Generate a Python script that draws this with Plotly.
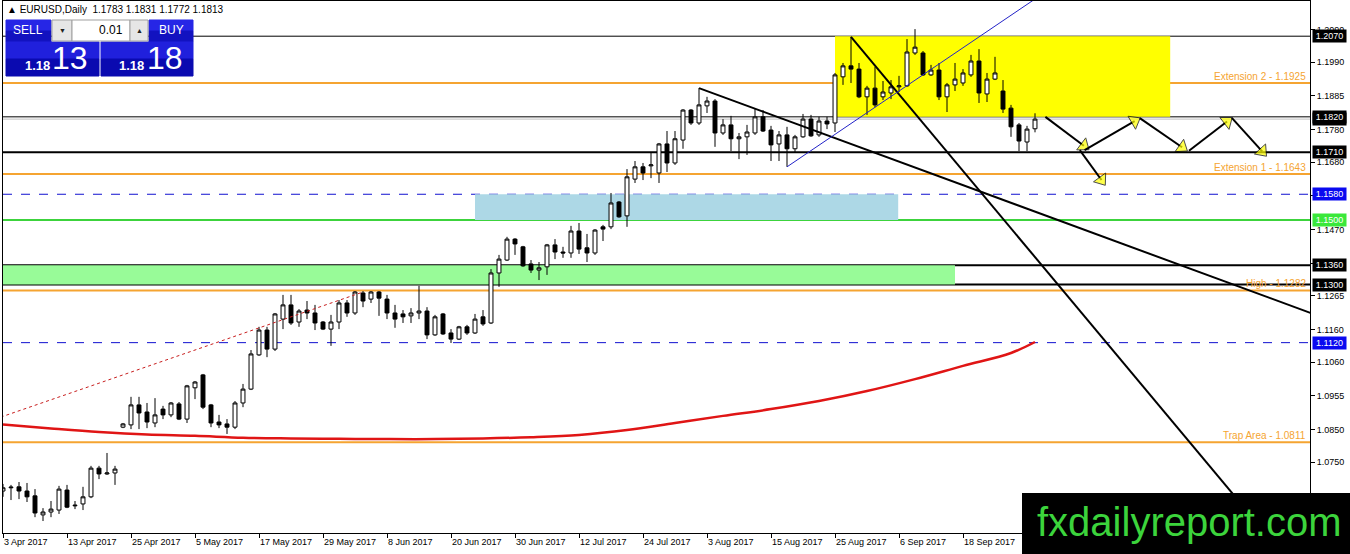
import plotly.graph_objects as go

# ---------------------------------------------------------------------------
# EURUSD daily candles, 3 Apr 2017 .. 29 Sep 2017
# ---------------------------------------------------------------------------
TICK_DATES = ["3 Apr 2017", "13 Apr 2017", "25 Apr 2017", "5 May 2017",
              "17 May 2017", "29 May 2017", "8 Jun 2017", "20 Jun 2017",
              "30 Jun 2017", "12 Jul 2017", "24 Jul 2017", "3 Aug 2017",
              "15 Aug 2017", "25 Aug 2017", "6 Sep 2017", "18 Sep 2017"]
PRICE_TICKS = [1.2090, 1.1990, 1.1885, 1.1780, 1.1680, 1.1575, 1.1470, 1.1365,
               1.1265, 1.1160, 1.1060, 1.0955, 1.0850, 1.0750, 1.0645]

OPEN = [1.0660, 1.0670, 1.0673, 1.0660, 1.0645, 1.0586, 1.0595, 1.0601, 1.0663, 1.0614,
        1.0620, 1.0642, 1.0731, 1.0713, 1.0716, 1.0858, 1.0865, 1.0927, 1.0905, 1.0871,
        1.0914, 1.0896, 1.0930, 1.0883, 1.0980, 1.1020, 1.0927, 1.0874, 1.0868, 1.0858,
        1.0933, 1.0976, 1.1082, 1.1159, 1.1100, 1.1193, 1.1237, 1.1184, 1.1221, 1.1212,
        1.1184, 1.1162, 1.1184, 1.1243, 1.1212, 1.1274, 1.1255, 1.1277, 1.1255, 1.1212,
        1.1209, 1.1203, 1.1212, 1.1218, 1.1144, 1.1209, 1.1150, 1.1131, 1.1169, 1.1150,
        1.1200, 1.1181, 1.1336, 1.1376, 1.1441, 1.1417, 1.1364, 1.1345, 1.1355, 1.1423,
        1.1401, 1.1398, 1.1466, 1.1414, 1.1398, 1.1479, 1.1479, 1.1556, 1.1513, 1.1627,
        1.1665, 1.1668, 1.1646, 1.1736, 1.1677, 1.1748, 1.1841, 1.1801, 1.1854, 1.1869,
        1.1770, 1.1795, 1.1752, 1.1758, 1.1770, 1.1820, 1.1779, 1.1736, 1.1764, 1.1721,
        1.1758, 1.1813, 1.1764, 1.1807, 1.1801, 1.1944, 1.1978, 1.1968, 1.1882, 1.1909,
        1.1882, 1.1894, 1.1913, 1.1916, 1.2018, 1.2018, 1.1950, 1.1965, 1.1882, 1.1919,
        1.1925, 1.1950, 1.1993, 1.1891, 1.1937, 1.1900, 1.1847, 1.1795, 1.1742, 1.1783]
HIGH = [1.0682, 1.0679, 1.0688, 1.0685, 1.0666, 1.0607, 1.0629, 1.0676, 1.0679, 1.0629,
        1.0673, 1.0738, 1.0738, 1.0778, 1.0738, 1.0871, 1.0952, 1.0952, 1.0933, 1.0948,
        1.0924, 1.0936, 1.0936, 1.0989, 1.1001, 1.1023, 1.0930, 1.0896, 1.0883, 1.0939,
        1.0992, 1.1097, 1.1169, 1.1169, 1.1212, 1.1268, 1.1268, 1.1224, 1.1249, 1.1237,
        1.1187, 1.1206, 1.1252, 1.1252, 1.1280, 1.1280, 1.1280, 1.1280, 1.1268, 1.1237,
        1.1221, 1.1227, 1.1296, 1.1230, 1.1206, 1.1212, 1.1162, 1.1172, 1.1175, 1.1209,
        1.1221, 1.1348, 1.1392, 1.1448, 1.1444, 1.1420, 1.1376, 1.1370, 1.1426, 1.1441,
        1.1417, 1.1482, 1.1491, 1.1457, 1.1472, 1.1485, 1.1584, 1.1559, 1.1658, 1.1683,
        1.1677, 1.1708, 1.1739, 1.1776, 1.1776, 1.1844, 1.1844, 1.1909, 1.1882, 1.1875,
        1.1813, 1.1823, 1.1770, 1.1795, 1.1844, 1.1841, 1.1792, 1.1776, 1.1789, 1.1764,
        1.1829, 1.1826, 1.1820, 1.1820, 1.1956, 1.1987, 1.2068, 1.1987, 1.1916, 1.1975,
        1.1931, 1.1934, 1.1947, 1.2061, 1.2092, 1.2024, 1.1981, 1.1987, 1.1925, 1.1987,
        1.1968, 1.2012, 1.2030, 1.1956, 1.2006, 1.1934, 1.1857, 1.1801, 1.1792, 1.1831]
LOW = [1.0642, 1.0632, 1.0635, 1.0626, 1.0579, 1.0567, 1.0579, 1.0589, 1.0607, 1.0604,
       1.0601, 1.0638, 1.0697, 1.0710, 1.0679, 1.0855, 1.0852, 1.0852, 1.0855, 1.0858,
       1.0883, 1.0889, 1.0880, 1.0871, 1.0945, 1.0914, 1.0858, 1.0855, 1.0837, 1.0852,
       1.0920, 1.0973, 1.1079, 1.1075, 1.1094, 1.1162, 1.1175, 1.1169, 1.1193, 1.1159,
       1.1159, 1.1110, 1.1162, 1.1200, 1.1206, 1.1230, 1.1243, 1.1203, 1.1193, 1.1166,
       1.1181, 1.1181, 1.1193, 1.1131, 1.1141, 1.1144, 1.1119, 1.1128, 1.1144, 1.1147,
       1.1172, 1.1178, 1.1293, 1.1373, 1.1392, 1.1355, 1.1336, 1.1314, 1.1330, 1.1379,
       1.1383, 1.1383, 1.1395, 1.1370, 1.1392, 1.1435, 1.1472, 1.1507, 1.1479, 1.1615,
       1.1624, 1.1630, 1.1615, 1.1649, 1.1671, 1.1721, 1.1795, 1.1795, 1.1832, 1.1727,
       1.1764, 1.1714, 1.1689, 1.1702, 1.1764, 1.1773, 1.1683, 1.1683, 1.1665, 1.1708,
       1.1755, 1.1758, 1.1758, 1.1782, 1.1773, 1.1919, 1.1925, 1.1878, 1.1826, 1.1850,
       1.1872, 1.1875, 1.1897, 1.1913, 1.2012, 1.1947, 1.1947, 1.1872, 1.1835, 1.1900,
       1.1916, 1.1944, 1.1863, 1.1866, 1.1934, 1.1832, 1.1758, 1.1714, 1.1714, 1.1772]
CLOSE = [1.0670, 1.0672, 1.0660, 1.0642, 1.0592, 1.0595, 1.0604, 1.0666, 1.0610, 1.0616,
         1.0642, 1.0731, 1.0713, 1.0716, 1.0728, 1.0868, 1.0927, 1.0902, 1.0874, 1.0896,
         1.0896, 1.0933, 1.0883, 1.0986, 1.0998, 1.0920, 1.0871, 1.0865, 1.0858, 1.0933,
         1.0976, 1.1085, 1.1159, 1.1100, 1.1209, 1.1237, 1.1181, 1.1218, 1.1212, 1.1181,
         1.1162, 1.1184, 1.1243, 1.1212, 1.1277, 1.1249, 1.1277, 1.1258, 1.1212, 1.1193,
         1.1200, 1.1212, 1.1218, 1.1144, 1.1200, 1.1147, 1.1131, 1.1169, 1.1150, 1.1193,
         1.1178, 1.1336, 1.1379, 1.1441, 1.1426, 1.1358, 1.1345, 1.1352, 1.1423, 1.1401,
         1.1398, 1.1466, 1.1410, 1.1398, 1.1469, 1.1472, 1.1553, 1.1510, 1.1634, 1.1665,
         1.1646, 1.1671, 1.1736, 1.1677, 1.1752, 1.1841, 1.1801, 1.1857, 1.1869, 1.1770,
         1.1795, 1.1752, 1.1758, 1.1773, 1.1820, 1.1776, 1.1733, 1.1764, 1.1721, 1.1758,
         1.1813, 1.1761, 1.1807, 1.1798, 1.1950, 1.1978, 1.1968, 1.1882, 1.1909, 1.1857,
         1.1897, 1.1913, 1.1916, 1.2021, 1.2036, 1.1950, 1.1965, 1.1882, 1.1919, 1.1937,
         1.1956, 1.1993, 1.1894, 1.1937, 1.1956, 1.1844, 1.1789, 1.1745, 1.1782, 1.1813]

# 200-day moving average (red), read at every sixth bar
MA_BARS = [0, 6, 12, 18, 24, 30, 36, 42, 48, 54, 60, 66, 72, 78, 84, 90, 96,
           102, 108, 114, 120, 126, 129]
MA_VALUES = [1.0866, 1.0854, 1.0843, 1.0835, 1.0831, 1.0825, 1.0823, 1.0822,
             1.0821, 1.0821, 1.0823, 1.0827, 1.0834, 1.0849, 1.0871, 1.0893,
             1.0914, 1.0939, 1.0970, 1.1007, 1.1048, 1.1088, 1.1122]

# horizontal levels
BLACK_LEVELS = [1.2070, 1.1820, 1.1710, 1.1360, 1.1300]
THICK_LEVELS = [1.1710, 1.1360, 1.1300]
ORANGE_LEVELS = [1.1925, 1.1643, 1.1282, 1.0811]
ORANGE_NAMES = ["Extension 2", "Extension 1", "High", "Trap Area"]
BLUE_LEVELS = [1.1580, 1.1120]
GREEN_LEVELS = [1.1500]
BID = 1.1813

# zones: (bar from, bar to, price low, price high)
YELLOW_ZONE = (104, 145.9, 1.1820, 1.2070)
BLUE_ZONE = (59, 111.9, 1.1500, 1.1580)
GREEN_ZONE = (-1, 119, 1.1300, 1.1360)

# drawn trend lines: (bar, price) end points
TREND_DOWN_1 = [(87, 1.1909), (164, 1.1207)]
TREND_DOWN_2 = [(106, 1.2068), (160, 1.0465)]
TREND_UP_BLUE = [(98, 1.1665), (130, 1.2202)]
TREND_RED_DOT = [(-1, 1.0883), (45, 1.1277)]

# projected path arrows
ARROWS = [((130.3, 1.1820), (135.7, 1.1719)),
          ((134.6, 1.1717), (137.75, 1.1609)),
          ((135.2, 1.1717), (142.1, 1.1816)),
          ((142.1, 1.1816), (148.0, 1.1715)),
          ((148.25, 1.1715), (153.6, 1.1817)),
          ((153.6, 1.1817), (157.9, 1.1699))]

# ---------------------------------------------------------------------------
W, H = 1350, 554
ML, MR, MT, MB = 3, 40, 1, 21
FONT = "Liberation Sans"
ORANGE = "#F5A431"
BLUE = "#1010D0"


def fx(px):
    return (px - ML) / (W - ML - MR)


def fy(py):
    return (H - MB - py) / (H - MT - MB)


bars = list(range(len(OPEN)))

fig = go.Figure()

fig.add_trace(go.Candlestick(
    x=bars, open=OPEN, high=HIGH, low=LOW, close=CLOSE,
    increasing=dict(line=dict(color="black", width=1), fillcolor="white"),
    decreasing=dict(line=dict(color="black", width=1), fillcolor="black"),
    whiskerwidth=0,
    hoverinfo="skip",
))

fig.add_trace(go.Scatter(
    x=MA_BARS, y=MA_VALUES, mode="lines", line_shape="spline",
    line=dict(color="#E01515", width=2.5), hoverinfo="skip",
))

for pts, color, width, dash in [
    (TREND_DOWN_1, "black", 2, "solid"),
    (TREND_DOWN_2, "black", 2, "solid"),
    (TREND_UP_BLUE, "#2323C8", 1, "solid"),
    (TREND_RED_DOT, "#C81E1E", 1, "dot"),
]:
    fig.add_trace(go.Scatter(
        x=[p[0] for p in pts], y=[p[1] for p in pts], mode="lines",
        line=dict(color=color, width=width, dash=dash), hoverinfo="skip",
    ))

# arrow heads: yellow triangles turned along the segment, pulled back so the tip sits on the end
for (x0, y0), (x1, y1) in ARROWS:
    fig.add_trace(go.Scatter(
        x=[x0, x1], y=[y0, y1], mode="lines+markers",
        line=dict(color="black", width=2),
        marker=dict(symbol=["circle", "triangle-up"], size=[0, 13], angleref="previous",
                    standoff=6, color="#FFFF00", line=dict(color="black", width=1)),
        hoverinfo="skip",
    ))

shapes = []
# zones (behind candles)
for (x0, x1, y0, y1), col in [(YELLOW_ZONE, "#FFFF00"), (BLUE_ZONE, "#ADD8E6"),
                              (GREEN_ZONE, "#98FB98")]:
    shapes.append(dict(type="rect", xref="x", yref="y", x0=x0, x1=x1, y0=y0, y1=y1,
                       fillcolor=col, line_width=0, layer="below"))


def hline(price, color, width, dash="solid"):
    shapes.append(dict(type="line", xref="paper", yref="y", x0=0, x1=1, y0=price, y1=price,
                       line=dict(color=color, width=width, dash=dash), layer="below"))


hline(BID, "#C0C0C0", 1)
for p in BLACK_LEVELS:
    hline(p, "black", 2 if p in THICK_LEVELS else 1)
for p in ORANGE_LEVELS:
    hline(p, ORANGE, 2)
for p in BLUE_LEVELS:
    hline(p, BLUE, 1, "dash")
for p in GREEN_LEVELS:
    hline(p, "#3CD33C", 2)

annotations = []

# level captions
for p, name in zip(ORANGE_LEVELS, ORANGE_NAMES):
    annotations.append(dict(xref="paper", yref="y", x=1, y=p, xanchor="right",
                            yanchor="bottom", xshift=-2, yshift=-1, showarrow=False,
                            text=f"{name} - {p:.4f}",
                            font=dict(family=FONT, size=10, color=ORANGE)))

# price boxes on the right scale
box_levels = [(BID, "black")] + [(p, "black") for p in BLACK_LEVELS] + \
             [(p, "#0A0AF0") for p in BLUE_LEVELS] + [(p, "#3AE83A") for p in GREEN_LEVELS]
for p, col in box_levels:
    annotations.append(dict(xref="paper", yref="y", x=1, y=p, xanchor="left",
                            yanchor="middle", xshift=2, showarrow=False,
                            text=f"{p:.4f}", bgcolor=col, borderpad=1, width=31,
                            font=dict(family=FONT, size=9, color="white")))

# title line
annotations.append(dict(xref="paper", yref="paper", x=fx(5), y=fy(9), xanchor="left",
                        yanchor="middle", showarrow=False,
                        text="▲ EURUSD,Daily  1.1783 1.1831 1.1772 1.1813",
                        font=dict(family=FONT, size=10, color="black")))


# one-click trading panel
def prect(x0, y0, x1, y1, fill, line=None):
    shapes.append(dict(type="rect", xref="paper", yref="paper",
                       x0=fx(x0), x1=fx(x1), y0=fy(y1), y1=fy(y0),
                       fillcolor=fill, layer="above",
                       line=dict(color=line or fill, width=1)))


def ptext(x, y, text, size, color="white", anchor="center", bold=False):
    annotations.append(dict(xref="paper", yref="paper", x=fx(x), y=fy(y),
                            xanchor=anchor, yanchor="middle", showarrow=False,
                            text=f"<b>{text}</b>" if bold else text,
                            font=dict(family=FONT, size=size, color=color)))


for x0, x1 in [(6, 51), (149, 193)]:
    prect(x0, 20, x1, 31, "#2626E6")
    prect(x0, 31, x1, 42, "#1212C0")
for x0, x1 in [(6, 99), (101, 193)]:
    prect(x0, 42, x1, 59, "#2020DC")
    prect(x0, 59, x1, 76, "#0A0AB0")
prect(52, 20, 72, 41, "#E6E6E6", "#A0A0A0")
prect(72, 20, 130, 41, "white", "#A0A0A0")
prect(130, 20, 148, 41, "#E6E6E6", "#A0A0A0")
ptext(28, 30, "SELL", 12)
ptext(171, 30, "BUY", 12)
ptext(62, 30, "▼", 7, "#202020")
ptext(139, 30, "▲", 7, "#202020")
ptext(125, 30, "0.01", 12, "black", "right")
ptext(37, 66, "1.18", 13, bold=True)
ptext(70, 58, "13", 32)
ptext(131, 66, "1.18", 13, bold=True)
ptext(165, 58, "18", 32)

# watermark
shapes.append(dict(type="rect", xref="paper", yref="paper", x0=fx(1022), x1=fx(1352),
                   y0=fy(556), y1=fy(493), fillcolor="black", line_width=0, layer="above"))
annotations.append(dict(xref="paper", yref="paper", x=fx(1189), y=fy(522),
                        xanchor="center", yanchor="middle", showarrow=False,
                        text="fxdailyreport.com",
                        font=dict(family=FONT, size=40, color="#3CD43C")))

fig.update_layout(
    width=W, height=H,
    margin=dict(l=ML, r=MR, t=MT, b=MB, pad=0),
    plot_bgcolor="white", paper_bgcolor="white",
    showlegend=False,
    shapes=shapes,
    annotations=annotations,
    font=dict(family=FONT, size=9, color="black"),
    xaxis=dict(
        range=[0, (W - ML - MR) / 8], rangeslider=dict(visible=False),
        tickvals=list(range(0, 8 * len(TICK_DATES), 8)), ticktext=TICK_DATES,
        ticklabelposition="outside right",
        ticks="outside", ticklen=4, tickcolor="black",
        showgrid=False, zeroline=False, showline=True, linecolor="black",
        linewidth=1, mirror=True, tickfont=dict(family=FONT, size=9),
    ),
    yaxis=dict(
        range=[1.21822 - 0.00031 * (H - MB), 1.21822 - 0.00031 * MT],
        side="right", tickvals=PRICE_TICKS,
        ticktext=[f"{v:.4f}" for v in PRICE_TICKS],
        ticks="outside", ticklen=4, tickcolor="black",
        showgrid=False, zeroline=False, showline=True, linecolor="black",
        linewidth=1, mirror=True, tickfont=dict(family=FONT, size=9),
    ),
)

# the page's default 8px body margin would push the chart off the window
fig.write_html("out.html", config={"displayModeBar": False},
               post_script="document.body.style.margin='0';"
                           "document.body.style.overflow='hidden';")
